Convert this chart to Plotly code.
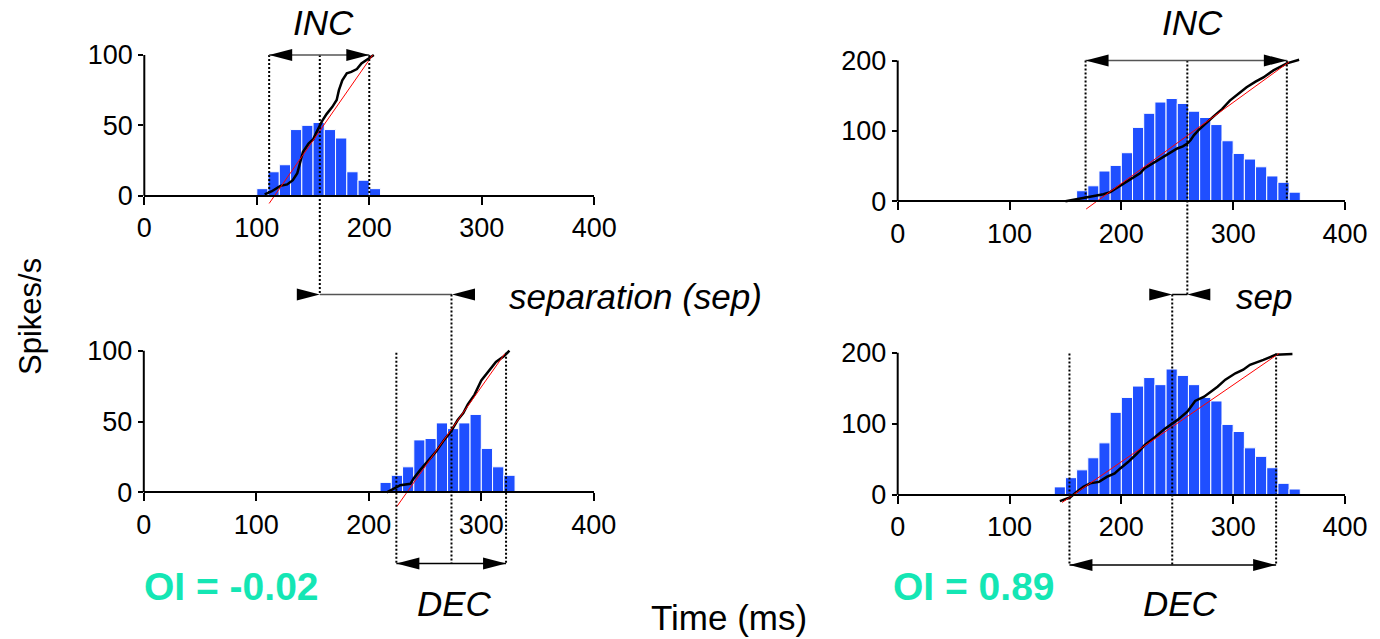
import plotly.graph_objects as go

W, H = 1380, 639
FONT = "Liberation Sans, Arial, Helvetica, sans-serif"
BLUE = "#1F4FFF"
TEAL = "#14E6B4"

# ---------------- data ----------------
x_ticks = [0, 100, 200, 300, 400]

# top-left (INC, 100 sp/s scale)
tl_bins = [100, 110, 120, 130, 140, 150, 160, 170, 180, 190, 200]
tl_rate = [5, 17, 22, 47, 50, 52, 47, 41, 17, 11, 5]
tl_cum_t = [107, 113, 121, 127, 132, 136, 138, 141, 146, 150, 153, 158, 162, 167,
            171, 173, 176, 180, 184, 189, 193, 198, 204]
tl_cum_v = [1, 3, 7, 8, 11, 16, 22, 31, 37, 40, 45, 53, 58, 63,
            68, 75, 82, 87, 88, 90, 94, 97, 100]
tl_fit_t = [111, 203]
tl_fit_v = [-5.5, 100]
tl_marks = [111, 156, 200]

# top-right (INC, 200 sp/s scale)
tr_bins = [160, 170, 180, 190, 200, 210, 220, 230, 240, 250, 260, 270, 280, 290,
           300, 310, 320, 330, 340, 350]
tr_rate = [15, 22, 43, 51, 69, 105, 125, 141, 146, 139, 128, 119, 109, 86,
           68, 60, 49, 36, 27, 13]
tr_cum_t = [150, 160, 169, 177, 184, 190, 193, 198, 202, 207, 212, 217, 221, 226,
            230, 235, 239, 245, 250, 255, 259, 262, 265, 269, 275, 282, 290, 297,
            305, 312, 320, 327, 336, 342, 348, 359]
tr_cum_v = [0, 3, 6, 8, 10, 13, 16, 21, 25, 29, 35, 40, 47, 52,
            56, 61, 65, 70, 75, 78, 82, 87, 94, 101, 110, 120, 131, 143,
            153, 162, 170, 176, 186, 191, 196, 201]
tr_fit_t = [168.5, 350]
tr_fit_v = [-11, 198]
tr_marks = [168, 259, 348]

# bottom-left (DEC, 100 sp/s scale)
bl_bins = [210, 220, 230, 240, 250, 260, 270, 280, 290, 300, 310, 320]
bl_rate = [7, 12, 18, 37, 38, 49, 45, 49, 55, 31, 18, 12]
bl_cum_t = [216, 221, 228, 237, 240, 246, 254, 260, 267, 273, 279, 284, 288,
            294, 300, 306, 313, 320, 325]
bl_cum_v = [0, 2, 5, 6, 10, 16, 23, 29, 37, 43, 51, 56, 62,
            69, 79, 85, 92, 96, 100]
bl_fit_t = [225, 321]
bl_fit_v = [-10, 98]
bl_marks = [224.5, 273.5, 322]

# bottom-right (DEC, 200 sp/s scale)
br_bins = [140, 150, 160, 170, 180, 190, 200, 210, 220, 230, 240, 250, 260, 270,
           280, 290, 300, 310, 320, 330, 340, 350]
br_rate = [11, 24, 35, 52, 73, 116, 137, 153, 165, 155, 177, 168, 155, 137,
           132, 99, 89, 66, 54, 38, 16, 8]
br_cum_t = [145, 154, 160, 166, 172, 180, 187, 194, 199, 206, 214, 221, 230,
            239, 250, 259, 266, 274, 280, 286, 293, 302, 309, 315, 327, 338, 353]
br_cum_v = [-9, -4, 4, 11, 16, 18, 25, 30, 37, 46, 58, 70, 81,
            93, 105, 117, 132, 138, 145, 152, 162, 171, 176, 183, 190, 197, 198]
br_fit_t = [147, 341]
br_fit_v = [-11, 199]
br_marks = [153.6, 245.5, 338.4]

labels_inc = "INC"
labels_dec = "DEC"
oi_left = "OI = -0.02"
oi_right = "OI = 0.89"

# ---------------- layout geometry (pixels) ----------------
panels = {
    "tl": dict(n="", x0=144.3, x1=594.3, y0=195.7, ytop=55.0, yval=100, rmin=-10, rmax=106, yt=[0, 50, 100]),
    "tr": dict(n="2", x0=897.7, x1=1345.0, y0=201.3, ytop=60.5, yval=200, rmin=-16, rmax=210, yt=[0, 100, 200]),
    "bl": dict(n="3", x0=143.8, x1=593.8, y0=492.3, ytop=350.7, yval=100, rmin=-14, rmax=106, yt=[0, 50, 100]),
    "br": dict(n="4", x0=897.7, x1=1345.0, y0=494.7, ytop=352.7, yval=200, rmin=-16, rmax=210, yt=[0, 100, 200]),
}

def ppu(p):
    return (p["y0"] - p["ytop"]) / p["yval"]

def ypx(p, v):
    return p["y0"] - v * ppu(p)

def yp(px):
    return 1 - px / H

fig = go.Figure()
layout = dict(width=W, height=H, margin=dict(l=0, r=0, t=0, b=0, pad=0, autoexpand=False),
              paper_bgcolor="white", plot_bgcolor="rgba(0,0,0,0)",
              showlegend=False, font=dict(family=FONT, color="black"))

series = {
    "tl": (tl_bins, tl_rate, tl_cum_t, tl_cum_v, tl_fit_t, tl_fit_v),
    "tr": (tr_bins, tr_rate, tr_cum_t, tr_cum_v, tr_fit_t, tr_fit_v),
    "bl": (bl_bins, bl_rate, bl_cum_t, bl_cum_v, bl_fit_t, bl_fit_v),
    "br": (br_bins, br_rate, br_cum_t, br_cum_v, br_fit_t, br_fit_v),
}

shapes = []
for key, p in panels.items():
    n = p["n"]
    xa, ya = "x" + n, "y" + n
    k = ppu(p)
    bottom_px = p["y0"] - p["rmin"] * k
    top_px = p["y0"] - p["rmax"] * k
    layout["xaxis" + n] = dict(
        domain=[p["x0"] / W, p["x1"] / W], range=[0, 400], anchor="free",
        position=yp(p["y0"]), showline=True, linewidth=2, linecolor="black",
        ticks="outside", ticklen=8, tickwidth=2, tickcolor="black",
        tickvals=x_ticks, tickfont=dict(size=27, family=FONT, color="black"),
        showgrid=False, zeroline=False, fixedrange=True, automargin=False)
    layout["yaxis" + n] = dict(
        domain=[yp(bottom_px), yp(top_px)], range=[p["rmin"], p["rmax"]],
        anchor=xa, showline=False, ticks="outside", ticklen=5, tickwidth=2,
        tickcolor="black", tickvals=p["yt"],
        tickfont=dict(size=27, family=FONT, color="black"),
        showgrid=False, zeroline=False, fixedrange=True, automargin=False)
    bins, rate, ct, cv, ft, fv = series[key]
    fig.add_trace(go.Bar(x=bins, y=rate, width=10, offset=0, xaxis=xa, yaxis=ya,
                         marker=dict(color=BLUE, line=dict(color="white", width=1))))
    fig.add_trace(go.Scatter(x=ct, y=cv, mode="lines", xaxis=xa, yaxis=ya,
                             line=dict(color="black", width=2.5)))
    fig.add_trace(go.Scatter(x=ft, y=fv, mode="lines", xaxis=xa, yaxis=ya,
                             line=dict(color="red", width=1)))
    # y axis line from 0 to top value
    shapes.append(dict(type="line", xref=xa + " domain", yref=ya, x0=0, x1=0,
                       y0=0, y1=p["yval"], line=dict(color="black", width=2)))

DOT = "2px,2px"
AL = 23  # arrowhead length px
AH = 6   # arrowhead half-height px

def vline(p, x, y0px, y1px):
    shapes.append(dict(type="line", xref="x" + p["n"], yref="paper", x0=x, x1=x,
                       y0=yp(y0px), y1=yp(y1px),
                       line=dict(color="black", width=2, dash=DOT)))

def tri(p, tip, ypix, direction):
    # direction +1: points right, -1: points left
    L = AL / ((p["x1"] - p["x0"]) / 400.0)
    base = tip - direction * L
    path = "M {},{} L {},{} L {},{} Z".format(
        tip, yp(ypix), base, yp(ypix - AH), base, yp(ypix + AH))
    shapes.append(dict(type="path", xref="x" + p["n"], yref="paper", path=path,
                       fillcolor="black", line=dict(width=0)))

def hline(p, xa0, xa1, ypix, color, width):
    shapes.append(dict(type="line", xref="x" + p["n"], yref="paper", x0=xa0, x1=xa1,
                       y0=yp(ypix), y1=yp(ypix), line=dict(color=color, width=width)))

SEP_Y = 294.5
DEC_Y_L = 563.5
DEC_Y_R = 565.0

# top-left INC
P = panels["tl"]
top = ypx(P, 100)
vline(P, tl_marks[0], top, P["y0"])
vline(P, tl_marks[2], top, P["y0"])
vline(P, tl_marks[1], top, SEP_Y)
hline(P, tl_marks[0], tl_marks[2], top, "#555555", 1.5)
tri(P, tl_marks[0], top, -1)
tri(P, tl_marks[2], top, +1)
# separation arrow (left column)
hline(P, tl_marks[1], bl_marks[1], SEP_Y, "#555555", 1.5)
tri(P, tl_marks[1], SEP_Y, +1)
tri(P, bl_marks[1], SEP_Y, -1)

# top-right INC
P = panels["tr"]
top = ypx(P, 200)
vline(P, tr_marks[0], top, P["y0"])
vline(P, tr_marks[2], top, P["y0"])
vline(P, tr_marks[1], top, SEP_Y)
hline(P, tr_marks[0], tr_marks[2], top, "#555555", 1.5)
tri(P, tr_marks[0], top, -1)
tri(P, tr_marks[2], top, +1)
# separation arrow (right column)
hline(P, br_marks[1], tr_marks[1], SEP_Y, "black", 1.5)
tri(P, br_marks[1], SEP_Y, +1)
tri(P, tr_marks[1], SEP_Y, -1)

# bottom-left DEC
P = panels["bl"]
top = ypx(P, 98.5)
vline(P, bl_marks[0], top, DEC_Y_L)
vline(P, bl_marks[2], top, DEC_Y_L)
vline(P, bl_marks[1], SEP_Y, DEC_Y_L)
hline(P, bl_marks[0], bl_marks[2], DEC_Y_L, "black", 1.5)
tri(P, bl_marks[0], DEC_Y_L, -1)
tri(P, bl_marks[2], DEC_Y_L, +1)

# bottom-right DEC
P = panels["br"]
top = ypx(P, 199)
vline(P, br_marks[0], top, DEC_Y_R)
vline(P, br_marks[2], top, DEC_Y_R)
vline(P, br_marks[1], SEP_Y, DEC_Y_R)
hline(P, br_marks[0], br_marks[2], DEC_Y_R, "black", 1.5)
tri(P, br_marks[0], DEC_Y_R, -1)
tri(P, br_marks[2], DEC_Y_R, +1)

def text(t, xpx, ypix, size, italic=False, bold=False, color="black", angle=0):
    return dict(text=t, xref="paper", yref="paper", x=xpx / W, y=yp(ypix),
                xanchor="center", yanchor="middle", showarrow=False, textangle=angle,
                font=dict(family=FONT, size=size, color=color,
                          style="italic" if italic else "normal",
                          weight="bold" if bold else "normal"))

annotations = [
    text(labels_inc, 323, 22, 35, italic=True),
    text(labels_inc, 1192, 22, 35, italic=True),
    text("separation (sep)", 635, 296, 35, italic=True),
    text("sep", 1264, 296, 35, italic=True),
    text(labels_dec, 454, 603, 35, italic=True),
    text(labels_dec, 1180, 603, 35, italic=True),
    text(oi_left, 231, 586, 39, bold=True, color=TEAL),
    text(oi_right, 974, 586, 39, bold=True, color=TEAL),
    text("Time (ms)", 729, 617, 35),
    text("Spikes/s", 30, 317, 31, angle=-90),
]

layout["shapes"] = shapes
layout["annotations"] = annotations
fig.update_layout(**layout)
fig.write_html(
    "out.html",
    config={"displayModeBar": False},
    post_script="document.body.style.margin='0px';"
                "document.documentElement.style.overflow='hidden';",
)
